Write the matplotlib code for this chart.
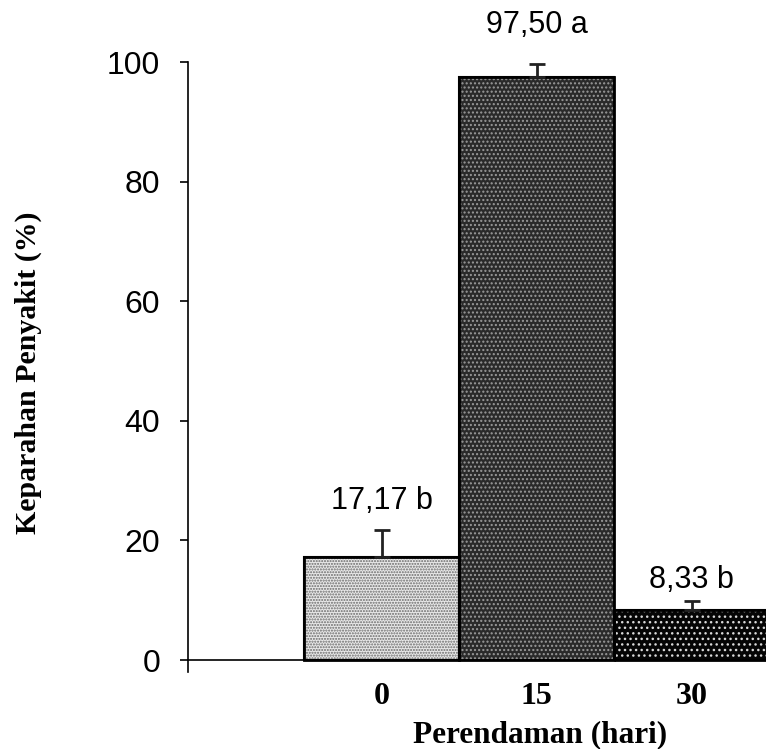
import matplotlib.pyplot as plt

# data
days = ["0", "15", "30"]
severity = [17.17, 97.50, 8.33]
err_up = [4.6, 2.2, 1.5]
labels = ["17,17 b", "97,50 a", "8,33 b"]

face = ["#e8e8e8", "#2a2a2a", "#050505"]
hatch_col = ["#6a6a6a", "#9a9a9a", "#d8d8d8"]
hatches = ["......", "....", "..."]
label_gap = [2.3, 4.0, 1.0]   # space between error cap and value label

sans = "Liberation Sans"
serif = "Liberation Serif"

fig = plt.figure(figsize=(7.66, 7.49), dpi=100)
ax = fig.add_axes([188 / 766, 77 / 749, 1 - 188 / 766, (672 - 62) / 749])

ax.spines["top"].set_visible(False)
ax.spines["right"].set_visible(False)
ax.spines["bottom"].set_position(("data", 0))
ax.spines["bottom"].set_linewidth(1.2)
ax.spines["left"].set_linewidth(1.2)

pos = [1, 2, 3]
ax.bar(pos, severity, width=1.0, color=face, edgecolor="black", linewidth=1.5, zorder=2)
for p, v, hc, h in zip(pos, severity, hatch_col, hatches):
    ax.bar(p, v, width=1.0, color="none", edgecolor=hc, hatch=h, linewidth=0, zorder=3)
ax.bar(pos, severity, width=1.0, color="none", edgecolor="black", linewidth=2, zorder=4)

ax.errorbar(pos, severity, yerr=[[0, 0, 0], err_up], fmt="none", ecolor="#222222",
            elinewidth=2, capsize=6, capthick=2, zorder=5)

for p, v, e, t, g in zip(pos, severity, err_up, labels, label_gap):
    ax.text(p, v + e + g, t, ha="center", va="bottom", fontsize=22, family=sans, clip_on=False)

ax.set_xlim(-0.25, 3.48)
ax.set_ylim(-2, 100)
ax.set_yticks([0, 20, 40, 60, 80, 100])
ax.set_xticks(pos, days)
ax.tick_params(axis="x", length=0, pad=16, labelsize=23)
ax.tick_params(axis="y", length=6, width=1.2, direction="out", labelsize=23, pad=14)
for lab in ax.get_xticklabels():
    lab.set_family(serif)
    lab.set_fontweight("bold")
for lab in ax.get_yticklabels():
    lab.set_family(sans)

fig.text(540 / 766, 1 - 742 / 749, "Perendaman (hari)", ha="center", va="baseline",
         fontsize=22.5, family=serif, fontweight="bold")
fig.text(28 / 766, 1 - 373 / 749, "Keparahan Penyakit (%)", ha="center", va="center",
         rotation=90, fontsize=21.5, family=serif, fontweight="bold")

fig.savefig("out.png", dpi=100)
